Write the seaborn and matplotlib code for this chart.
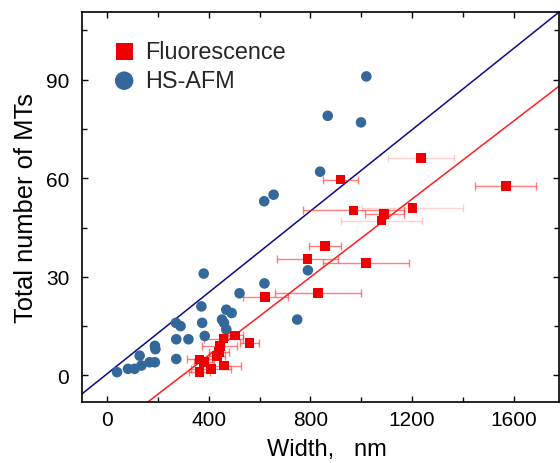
import matplotlib
matplotlib.use("Agg")
import matplotlib.pyplot as plt
import seaborn as sns
import pandas as pd

# HS-AFM measurements: bundle width (nm) vs. total number of microtubules
afm_width = [1020, 868, 999, 838, 655, 618, 380, 790, 619, 521, 371, 469, 490,
             748, 271, 289, 374, 452, 460, 469, 384, 320, 272, 188, 190, 128,
             272, 167, 188, 135, 108, 82, 39]
afm_count = [91, 79, 77, 62, 55, 53, 31, 32, 28, 25, 21, 20, 19,
             17, 16, 15, 16, 17, 16, 14, 12, 11, 11, 9, 8, 6,
             5, 4, 4, 3, 2, 2, 1]

# Fluorescence measurements with width uncertainty
fl_width = [919, 1569, 1236, 969, 1202, 1090, 1079, 858, 788, 1018, 829, 622,
            504, 458, 560, 443, 439, 432, 364, 382, 461, 409, 364]
fl_count = [59.6, 57.6, 66.2, 50.2, 50.9, 49.1, 47.1, 39.3, 35.5, 34.3, 25.0, 23.8,
            12.2, 11.2, 9.9, 8.9, 7.1, 5.9, 4.9, 4.1, 3.0, 2.0, 1.0]
fl_width_err = [70, 120, 130, 200, 200, 77, 160, 62, 120, 170, 170, 88,
                30, 75, 37, 70, 40, 30, 50, 40, 65, 80, 40]
fl_err_faint = [False, False, True, False, True, False, True, False, False, False, False, False,
                False, False, False, False, False, False, False, False, False, False, False]

# Linear relations drawn across the plot
afm_slope, afm_intercept = 0.0619, 0.5
fl_slope, fl_intercept = 0.0594, -17.6

x_ticks = [0, 400, 800, 1200, 1600]
y_ticks = [0, 30, 60, 90]

sns.set_theme(style="ticks")
plt.rcParams["font.family"] = ["Liberation Sans", "DejaVu Sans"]

fig = plt.figure(figsize=(5.6, 4.64), dpi=100)
ax = fig.add_axes([0.1459, 0.1321, 0.8523, 0.8392])

afm = pd.DataFrame({"width": afm_width, "count": afm_count})
fl = pd.DataFrame({"width": fl_width, "count": fl_count,
                   "err": fl_width_err, "faint": fl_err_faint})

# horizontal error bars for the fluorescence points
for faint, alpha in ((False, 0.6), (True, 0.22)):
    sub = fl[fl["faint"] == faint]
    ax.errorbar(sub["width"], sub["count"], xerr=sub["err"], fmt="none",
                ecolor="#ff2a2a", alpha=alpha, elinewidth=1.0,
                capsize=3, capthick=1.0, zorder=2)

ax.axline((0, afm_intercept), slope=afm_slope, color="#0a0a8a", lw=1.1, zorder=1)
ax.axline((0, fl_intercept), slope=fl_slope, color="#ff1e1e", lw=1.1, zorder=1)

sns.scatterplot(data=afm, x="width", y="count", marker="o", s=58,
                color="#34689a", edgecolor="none", linewidth=0,
                label="HS-AFM", ax=ax, zorder=3)
sns.scatterplot(data=fl, x="width", y="count", marker="s", s=48,
                color="#ee0000", edgecolor="none", linewidth=0,
                label="Fluorescence", ax=ax, zorder=4)

ax.set_xticks(x_ticks)
ax.set_yticks(y_ticks)
ax.set_xticks([v + 200 for v in [-400] + x_ticks], minor=True)
ax.set_yticks([v + 15 for v in [-30] + y_ticks], minor=True)
ax.set_xlim(-100, 1778)
ax.set_ylim(-8, 110.5)

for side in ("left", "right", "top", "bottom"):
    ax.spines[side].set_visible(True)
    ax.spines[side].set_color("black")
    ax.spines[side].set_linewidth(1.2)

ax.tick_params(which="both", direction="in", top=True, right=True,
               color="black", width=1.0, labelsize=15, labelcolor="black")
ax.tick_params(which="major", length=4)
ax.tick_params(which="minor", length=3.5)
ax.tick_params(axis="x", which="both", pad=6)
ax.tick_params(axis="y", which="both", pad=9)

ax.set_xlabel("Width,   nm", fontsize=17, color="black")
ax.set_ylabel("Total number of MTs", fontsize=18.4, color="black")
ax.xaxis.set_label_coords(0.513, -0.093)
ax.yaxis.set_label_coords(-0.0907, 0.50)

handles, labels = ax.get_legend_handles_labels()
order = [labels.index("Fluorescence"), labels.index("HS-AFM")]
ax.legend([handles[i] for i in order], [labels[i] for i in order],
          loc="upper left", bbox_to_anchor=(0.0645, 0.929),
          frameon=False, fontsize=16.8, markerscale=1.75,
          handlelength=1.0, handletextpad=0.4, labelspacing=0.25,
          borderpad=0, borderaxespad=0)

fig.savefig("out.png", dpi=100)
